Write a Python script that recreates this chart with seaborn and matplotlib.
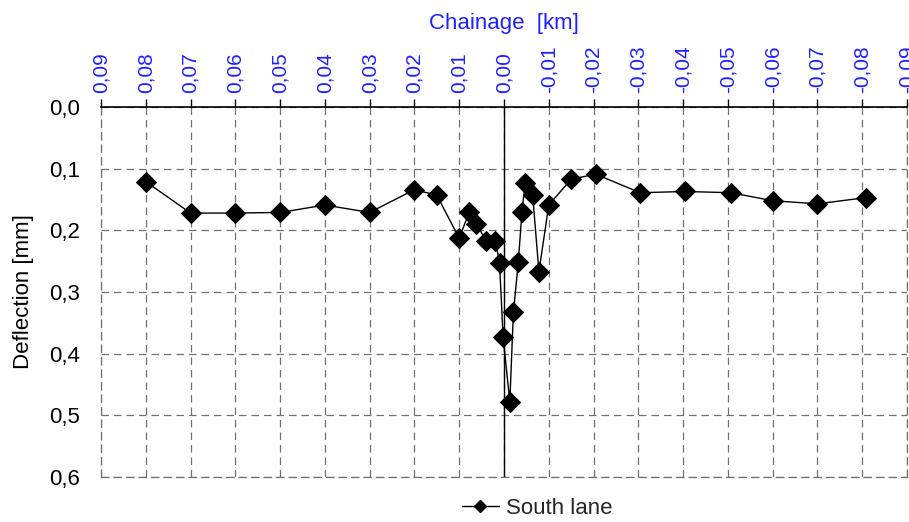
import matplotlib
matplotlib.use("Agg")
import matplotlib.pyplot as plt
from matplotlib.ticker import FuncFormatter
import seaborn as sns
import pandas as pd

chainage_km = [0.080, 0.070, 0.060, 0.050, 0.040, 0.030, 0.020, 0.015, 0.010,
               0.0078, 0.0062, 0.0040, 0.0019, 0.0010, 0.0002, -0.0013, -0.0021,
               -0.0032, -0.0040, -0.0047, -0.0064, -0.0078, -0.0100, -0.0150,
               -0.0205, -0.0304, -0.0404, -0.0507, -0.0600, -0.0700, -0.0808]
deflection_mm = [0.121, 0.172, 0.172, 0.171, 0.159, 0.171, 0.134, 0.143, 0.213,
                 0.171, 0.189, 0.217, 0.217, 0.253, 0.373, 0.478, 0.333,
                 0.251, 0.171, 0.124, 0.143, 0.267, 0.159, 0.117,
                 0.109, 0.139, 0.137, 0.139, 0.152, 0.157, 0.147]
series_name = "South lane"
x_ticks = [0.09, 0.08, 0.07, 0.06, 0.05, 0.04, 0.03, 0.02, 0.01, 0.0,
           -0.01, -0.02, -0.03, -0.04, -0.05, -0.06, -0.07, -0.08, -0.09]
y_ticks = [0.0, 0.1, 0.2, 0.3, 0.4, 0.5, 0.6]

df = pd.DataFrame({"Chainage": chainage_km, "Deflection": deflection_mm,
                   "Series": series_name})

sns.set_style("white")
plt.rcParams["font.family"] = ["Liberation Sans", "DejaVu Sans"]

fig = plt.figure(figsize=(9.09, 5.22), dpi=100)
ax = fig.add_axes([101 / 909, 1 - 477 / 522, (907 - 101) / 909, (477 - 107) / 522])

sns.lineplot(data=df, x="Chainage", y="Deflection", hue="Series",
             palette=["black"], sort=False, estimator=None, marker="D",
             markersize=10, markeredgecolor="black", linewidth=1.0, ax=ax,
             legend=False)

ax.set_xlim(0.09, -0.09)
ax.set_ylim(0.6, 0.0)
ax.set_xticks(x_ticks)
ax.set_yticks(y_ticks)

ax.xaxis.tick_top()
ax.xaxis.set_label_position("top")
ax.xaxis.set_major_formatter(FuncFormatter(
    lambda v, p: f"{v:.2f}".replace(".", ",").replace("-0,00", "0,00")))
ax.yaxis.set_major_formatter(FuncFormatter(lambda v, p: f"{v:.1f}".replace(".", ",")))

ax.tick_params(axis="x", which="major", direction="out", length=6, width=1,
               colors="black", labelcolor="#2020ff", labelsize=15, rotation=90,
               pad=4)
ax.tick_params(axis="y", which="major", direction="out", length=0, width=1,
               colors="#808080", labelcolor="black", labelsize=16, pad=15)

ax.set_xlabel("Chainage  [km]", color="#2020ff", fontsize=16, labelpad=12)
ax.set_ylabel("Deflection [mm]", color="black", fontsize=16, labelpad=11)

ax.grid(True, color="#707070", linestyle=(0, (6, 4)), linewidth=0.9)
ax.axvline(0, color="black", linewidth=1.0, zorder=1.5)

for side in ["left", "right", "bottom"]:
    ax.spines[side].set_color("#707070")
    ax.spines[side].set_linestyle((0, (6, 4)))
    ax.spines[side].set_linewidth(0.9)
ax.spines["top"].set_color("black")
ax.spines["top"].set_linewidth(1.2)

handle = plt.Line2D([], [], color="black", marker="D", markersize=6,
                    linewidth=1.0, label=series_name)
fig.legend(handles=[handle], loc="center", bbox_to_anchor=(537 / 909, 1 - 508 / 522),
           frameon=False, fontsize=16, handlelength=1.7, handletextpad=0.3,
           borderpad=0, borderaxespad=0)

fig.savefig("out.png", dpi=100, facecolor="white")
